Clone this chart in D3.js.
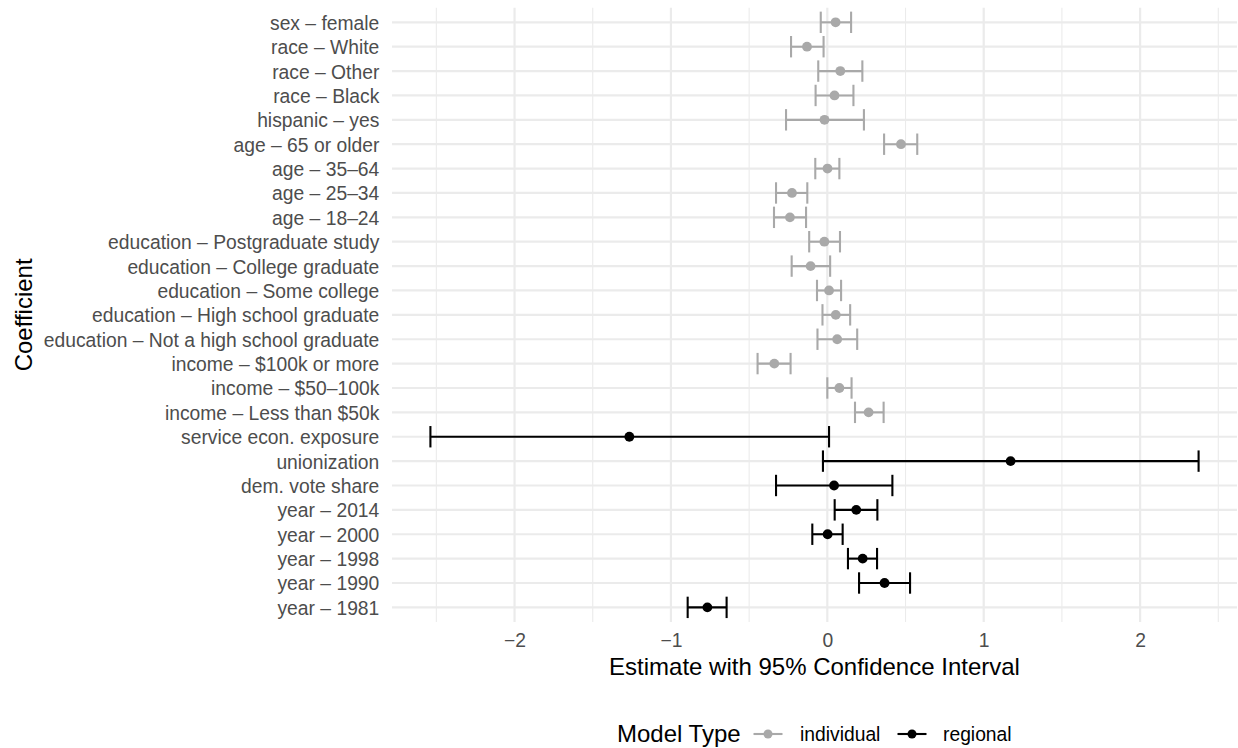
<!DOCTYPE html>
<meta charset="utf-8">
<title>Coefficient plot</title>
<style>
body { margin: 0; background: #fff; }
svg { display: block; font-family: "Liberation Sans", Arial, Helvetica, sans-serif; }
.grid line { stroke: #ebebeb; }
.grid .major { stroke-width: 2.2px; }
.grid .minor { stroke-width: 1.1px; }
.tick-label { fill: #4d4d4d; font-size: 19.3px; }
.axis-title { fill: #000; font-size: 24px; }
.legend text { fill: #000; }
</style>
<svg id="chart" width="1238" height="748"></svg>
<script src="https://d3js.org/d3.v7.min.js"></script>
<script>
// coefficients, top to bottom as drawn
let terms = [
  "sex – female", "race – White", "race – Other", "race – Black", "hispanic – yes",
  "age – 65 or older", "age – 35–64", "age – 25–34", "age – 18–24",
  "education – Postgraduate study", "education – College graduate", "education – Some college",
  "education – High school graduate", "education – Not a high school graduate",
  "income – $100k or more", "income – $50–100k", "income – Less than $50k",
  "service econ. exposure", "unionization", "dem. vote share",
  "year – 2014", "year – 2000", "year – 1998", "year – 1990", "year – 1981"
];
let modelType = [
  "individual", "individual", "individual", "individual", "individual",
  "individual", "individual", "individual", "individual",
  "individual", "individual", "individual", "individual", "individual",
  "individual", "individual", "individual",
  "regional", "regional", "regional",
  "regional", "regional", "regional", "regional", "regional"
];
let estimate = [
  0.053, -0.130, 0.083, 0.046, -0.018,
  0.471, 0.001, -0.226, -0.239,
  -0.019, -0.107, 0.011, 0.054, 0.063,
  -0.339, 0.077, 0.264,
  -1.266, 1.172, 0.043,
  0.185, 0.002, 0.226, 0.366, -0.767
];
let lower = [
  -0.042, -0.232, -0.058, -0.075, -0.264,
  0.363, -0.077, -0.328, -0.341,
  -0.116, -0.228, -0.066, -0.031, -0.063,
  -0.446, 0.000, 0.177,
  -2.538, -0.028, -0.328,
  0.047, -0.096, 0.132, 0.203, -0.893
];
let upper = [
  0.152, -0.024, 0.224, 0.167, 0.234,
  0.575, 0.077, -0.128, -0.136,
  0.081, 0.018, 0.088, 0.146, 0.191,
  -0.235, 0.155, 0.360,
  0.011, 2.374, 0.416,
  0.320, 0.098, 0.318, 0.529, -0.644
];
let xMajor = [-2, -1, 0, 1, 2];
let xMinor = [-2.5, -1.5, -0.5, 0.5, 1.5, 2.5];
let legendKeys = ["individual", "regional"];
let legendColors = ["#a9a9a9", "#000000"];

let rows = terms.map((t, i) => ({
  term: t, model: modelType[i], est: estimate[i], lo: lower[i], hi: upper[i]
}));

let svg = d3.select("#chart"),
    panel = {left: 392, right: 1237, top: 7.7, bottom: 622};

// ggplot style 5% expansion
let lo = d3.min(lower), hi = d3.max(upper), pad = (hi - lo) * 0.05;
let x = d3.scaleLinear().domain([lo - pad, hi + pad]).range([panel.left, panel.right]);
let y = d3.scalePoint().domain(terms).range([panel.top, panel.bottom]).padding(0.6);
let color = d3.scaleOrdinal().domain(legendKeys).range(legendColors);

// grid
let grid = svg.append("g").attr("class", "grid");
grid.selectAll("line.minor")
  .data(xMinor.filter(v => x(v) >= panel.left && x(v) <= panel.right))
  .enter().append("line")
    .attr("class", "minor")
    .attr("x1", d => x(d)).attr("x2", d => x(d))
    .attr("y1", panel.top).attr("y2", panel.bottom);
grid.selectAll("line.vmajor")
  .data(xMajor)
  .enter().append("line")
    .attr("class", "major vmajor")
    .attr("x1", d => x(d)).attr("x2", d => x(d))
    .attr("y1", panel.top).attr("y2", panel.bottom);
grid.selectAll("line.hmajor")
  .data(terms)
  .enter().append("line")
    .attr("class", "major hmajor")
    .attr("x1", panel.left).attr("x2", panel.right)
    .attr("y1", d => y(d)).attr("y2", d => y(d));

// axes (labels only, theme_minimal has no axis lines)
let xAxis = svg.append("g")
  .attr("transform", "translate(0," + panel.bottom + ")")
  .call(d3.axisBottom(x).tickValues(xMajor).tickSize(0).tickPadding(0)
    .tickFormat(d => d < 0 ? "\u2212" + Math.abs(d) : d));
xAxis.select(".domain").remove();
xAxis.selectAll("text")
  .attr("class", "tick-label")
  .attr("fill", null)
  .attr("dy", null)
  .attr("y", 25)
  .style("font-size", null);
xAxis.attr("font-size", null).attr("font-family", null);

let yAxis = svg.append("g")
  .attr("transform", "translate(" + panel.left + ",0)")
  .call(d3.axisLeft(y).tickSize(0).tickPadding(12.7));
yAxis.select(".domain").remove();
yAxis.selectAll("text")
  .attr("class", "tick-label")
  .attr("fill", null)
  .attr("dy", "0.36em");
yAxis.attr("font-size", null).attr("font-family", null);

svg.append("text")
  .attr("class", "axis-title")
  .attr("x", (panel.left + panel.right) / 2)
  .attr("y", 675)
  .attr("text-anchor", "middle")
  .text("Estimate with 95% Confidence Interval");

svg.append("text")
  .attr("class", "axis-title")
  .attr("transform", "translate(32," + (panel.top + panel.bottom) / 2 + ") rotate(-90)")
  .attr("text-anchor", "middle")
  .text("Coefficient");

// error bars and points
let capH = 10.7;
let marks = svg.append("g").selectAll("g")
  .data(rows)
  .enter().append("g")
    .attr("stroke", d => color(d.model))
    .attr("fill", d => color(d.model))
    .attr("stroke-width", 2.1);
marks.append("line")
  .attr("x1", d => x(d.lo)).attr("x2", d => x(d.hi))
  .attr("y1", d => y(d.term)).attr("y2", d => y(d.term));
marks.append("line")
  .attr("x1", d => x(d.lo)).attr("x2", d => x(d.lo))
  .attr("y1", d => y(d.term) - capH).attr("y2", d => y(d.term) + capH);
marks.append("line")
  .attr("x1", d => x(d.hi)).attr("x2", d => x(d.hi))
  .attr("y1", d => y(d.term) - capH).attr("y2", d => y(d.term) + capH);
marks.append("circle")
  .attr("cx", d => x(d.est)).attr("cy", d => y(d.term))
  .attr("r", 4.9).attr("stroke", "none");

// legend
let legend = svg.append("g").attr("class", "legend");
legend.append("text")
  .attr("x", 617).attr("y", 742)
  .style("font-size", "24px")
  .text("Model Type");
let keyX = [768, 912], labelX = [800, 943];
legendKeys.forEach((k, i) => {
  legend.append("line")
    .attr("x1", keyX[i] - 14.5).attr("x2", keyX[i] + 14.5)
    .attr("y1", 734).attr("y2", 734)
    .attr("stroke", color(k)).attr("stroke-width", 2.1);
  legend.append("circle")
    .attr("cx", keyX[i]).attr("cy", 734).attr("r", 4.5)
    .attr("fill", color(k));
  legend.append("text")
    .attr("x", labelX[i]).attr("y", 741)
    .style("font-size", "19.3px")
    .text(k);
});
</script>
